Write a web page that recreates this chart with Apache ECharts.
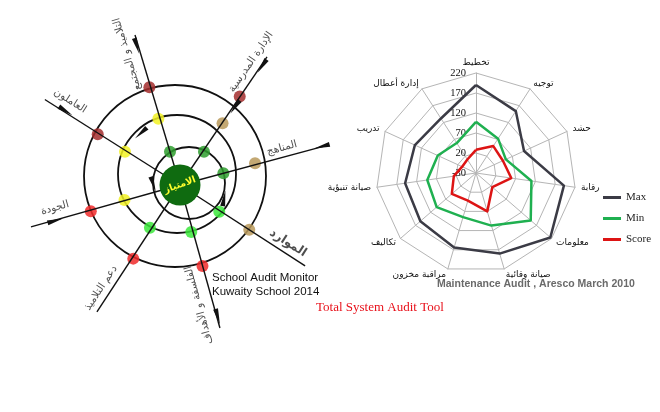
<!DOCTYPE html>
<html><head><meta charset="utf-8">
<script src="https://cdn.jsdelivr.net/npm/echarts@6/dist/echarts.min.js"></script>
<style>html,body{margin:0;padding:0;background:#fff}#c{width:660px;height:412px}</style>
</head><body><div id="c"></div>
<script>
// ---------- Radar data (clockwise from the top axis) ----------
const radarIndicators = ['تخطيط','توجيه','حشد','رقابة','معلومات','صيانة وقائية','مراقبة مخزون','تكاليف','صيانة تنبؤية','تدريب','إدارة أعطال'];
const maxValues   = [190,154,102,192,216,180,164,154,149,138,132];
const minValues   = [98,72,52,110,151,107,85,100,93,75,59];
const scoreValues = [28,50,44,59,24,70,42,50,26,8,10];
const radarMin = -30, radarMax = 220, radarStep = 50;
const seriesNames = ['Max','Min','Score'];

// ---------- Left diagram data ----------
// spokes: angle (deg, counter-clockwise from east) and length, in polar axis units
const spokeNames   = ['التلاميذ و المجتمع','الإدارة المدرسية','المناهج','الموارد','الفلسفة و الأهداف','دعم التلاميذ','الجودة','العاملون'];
const spokeAngles  = [106.7, 55.8, 15.1, 327.1, 285.6, 236.8, 195.7, 147.7];
const spokeLengths = [156.6, 154.8, 153.3, 149.0, 148.5, 151.7, 154.8, 160.9];
// status dots: [radius, angle, status]
const dotPoints = [
  [102.4,107.4,'critical'],[69.7,108.1,'average'],[34.8,106.7,'good'],
  [106.8,56.0,'critical'],[74.9,55.4,'fair'],[41.0,54.2,'good'],
  [78.1,16.1,'fair'],[44.9,15.1,'good'],
  [82.4,327.2,'fair'],[47.5,325.8,'excellent'],
  [84.1,285.5,'weak'],[48.3,283.5,'excellent'],
  [87.2,237.6,'weak'],[52.3,234.9,'excellent'],
  [93.0,196.4,'weak'],[57.5,195.1,'average'],
  [96.7,148.3,'critical'],[64.3,148.8,'average']
];
// flow arrows: [radius, angle, direction]
const arrowPoints = [
  [145.6,107.3,287.3],[144.5,55.4,235.4],[95.4,54.8,234.8],[136.2,147.1,327.1],
  [129.7,196.0,16.0],[147.0,15.2,195.2],[137.0,286.0,286.0],
  [65.0,127.0,222.0],[26.7,178.5,288.0],[46.0,343.2,80.0]
];
const centerLabel = 'الامتياز';

// ---------- styles / layout ----------
const statusColor = {critical:'#a32d2d', weak:'#f02a2a', fair:'#b8995a', average:'#f2f224', good:'#2e9e2e', excellent:'#3be83b'};
const rings = [{center:[189,183], r:36},{center:[177,174], r:59},{center:[175,176], r:91}];
const labelLayout = [ // [radius, angle, rotate, fontSize]
  [141.3,112,106.7,10.5],[142,60,55.8,10.5],[108.5,19.9,15.1,10.5],[122.6,331.8,-32.9,12],
  [121.5,279,105.6,10.5],[129.8,232.5,56.8,10.5],[127.1,190.4,15.7,10.5],[138.4,142.6,-32.3,10.5]
];
const radarColors = ['#3b3b45','#1fb050','#dd1414'];
const ccw = a => [a[0]].concat(a.slice(1).reverse());

const polar = [{center:[180,185], radius:160}].concat(rings.map(g => ({center:g.center, radius:g.r})));
const angleAxis = polar.map((p,i) => ({
  polarIndex:i, type:'value', min:0, max:360, startAngle:0, clockwise:false,
  show: i>0, axisLine:{show:i>0, lineStyle:{color:'#111', width:1.8}},
  axisTick:{show:false}, axisLabel:{show:false}, splitLine:{show:false}
}));
const radiusAxis = polar.map((p,i) => ({polarIndex:i, type:'value', min:0, max: i===0?160:1, show:false}));

const series = [];
spokeAngles.forEach((a,i) => series.push({
  type:'line', coordinateSystem:'polar', polarIndex:0, silent:true, animation:false, z:4,
  symbol:'none', data:[[0,a],[spokeLengths[i],a]], lineStyle:{color:'#111', width:1.4}
}));
series.push({
  type:'scatter', coordinateSystem:'polar', polarIndex:0, silent:true, animation:false, z:3,
  symbolSize:12,
  data: dotPoints.map(d => ({value:[d[0],d[1]], itemStyle:{color:statusColor[d[2]], opacity:0.85}}))
});
series.push({
  type:'scatter', coordinateSystem:'polar', polarIndex:0, silent:true, animation:false, z:5,
  symbol:'path://M5,0 L10,24 L0,24 Z', symbolSize:[5,16],
  data: arrowPoints.map(d => ({value:[d[0],d[1]], symbolRotate:d[2]-90, itemStyle:{color:'#111', opacity:1}}))
});
series.push({
  type:'scatter', coordinateSystem:'polar', polarIndex:0, silent:true, animation:false, z:6,
  symbolSize:41, itemStyle:{color:'#0f6b10', opacity:1},
  data:[{value:[0,0], name:centerLabel}],
  label:{show:true, position:'inside', formatter:'{b}', rotate:20, color:'#ffff2e', fontWeight:'bold', fontSize:9.5, fontFamily:'DejaVu Sans'}
});
series.push({
  type:'scatter', coordinateSystem:'polar', polarIndex:0, silent:true, animation:false, z:6,
  symbolSize:0,
  data: spokeNames.map((n,i) => ({value:[labelLayout[i][0],labelLayout[i][1]], name:n,
        label:{rotate:labelLayout[i][2], fontSize:labelLayout[i][3], fontWeight: i===3?'bold':'normal'}})),
  label:{show:true, position:'inside', formatter:'{b}', color:'#222', fontFamily:'DejaVu Sans'}
});
const radarData = [maxValues, minValues, scoreValues];
series.push({
  type:'radar', radarIndex:0, symbol:'none', silent:true, animation:false, z:5,
  data: radarData.map((v,i) => ({name:seriesNames[i], value:ccw(v),
        lineStyle:{color:radarColors[i], width:2.5}, itemStyle:{color:radarColors[i]}}))
});

const indicator = ccw(radarIndicators).map((n,i) => {
  const o = {name:n, min:radarMin, max:radarMax};
  if (i===0) o.axisLabel = {show:true, color:'#111', fontSize:10.5, fontFamily:'Liberation Serif', margin:10};
  return o;
});

const option = {
  animation:false,
  backgroundColor:'#fff',
  polar, angleAxis, radiusAxis,
  radar: {
    center:[476,173], radius:100, startAngle:90, splitNumber:(radarMax-radarMin)/radarStep, shape:'polygon',
    indicator,
    axisName:{color:'#111', fontSize:9, fontFamily:'DejaVu Sans'},
    nameGap:6,
    splitLine:{lineStyle:{color:'#b5b5b5', width:1}},
    splitArea:{show:false},
    axisLine:{lineStyle:{color:'#b5b5b5', width:1}},
    axisTick:{show:false},
    axisLabel:{show:false}
  },
  legend: {
    data: seriesNames, orient:'vertical', left:598, top:187, itemWidth:18, itemHeight:3, icon:'rect',
    itemGap:10, textStyle:{fontFamily:'Liberation Serif', fontSize:11, color:'#222'}
  },
  graphic: [
    {type:'text', left:212, top:271, silent:true, style:{text:'School Audit Monitor\nKuwaity School 2014', font:'11.5px "Liberation Sans"', lineHeight:14, fill:'#111'}},
    {type:'text', left:316, top:301, silent:true, style:{text:'Total System Audit Tool', font:'13px "Liberation Serif"', fill:'#e8101a'}},
    {type:'text', left:437, top:279, silent:true, style:{text:'Maintenance Audit , Aresco March 2010', font:'bold 10.5px "Liberation Sans"', fill:'#6a6a6a'}}
  ],
  series
};
const chart = echarts.init(document.getElementById('c'));
chart.setOption(option);
</script></body></html>
